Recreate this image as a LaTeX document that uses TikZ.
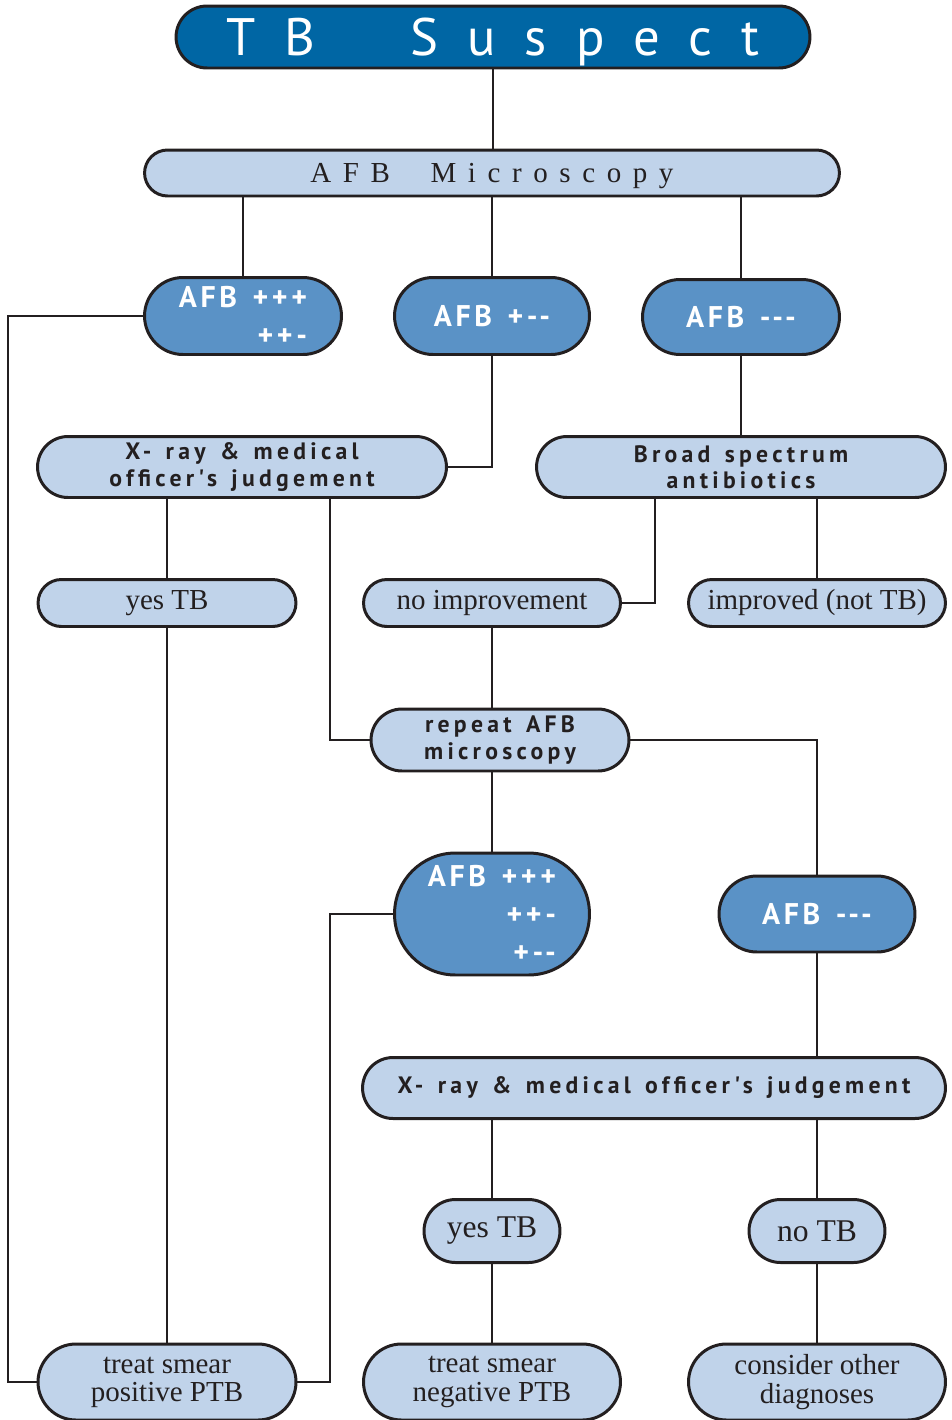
\documentclass[tikz,border=0pt]{standalone}
\usepackage{fontspec}
\setmainfont{Liberation Serif}
\newfontfamily\titlefont[LetterSpace=55]{PT Sans}
\newfontfamily\afbfont[LetterSpace=12,WordSpace=1.4]{PT Sans}
\newfontfamily\stepfont[LetterSpace=18,WordSpace=1.4]{PT Sans}
\newfontfamily\microfont[LetterSpace=40]{Liberation Serif}
\usetikzlibrary{shapes.misc}
\definecolor{darkblue}{RGB}{0,102,164}
\definecolor{midblue}{RGB}{90,146,198}
\definecolor{lightblue}{RGB}{192,211,234}
\definecolor{inkc}{RGB}{35,31,32}
\tikzset{
  box/.style={rounded rectangle, draw=inkc, line width=1.7pt, inner sep=0pt, align=center},
  lightbox/.style={box, fill=lightblue, text=inkc},
  afbbox/.style={box, fill=midblue, text=white, align=right,
    font=\afbfont\bfseries\fontsize{17}{21.5}\selectfont},
  stepbox/.style={lightbox, font=\stepfont\bfseries\fontsize{13.5}{15}\selectfont},
  plainbox/.style={lightbox, font=\fontsize{16.5}{16}\selectfont},
  link/.style={draw=inkc, line width=1.4pt}
}
\begin{document}
\begin{tikzpicture}[x=0.02cm, y=-0.02cm]
  \useasboundingbox (0,0) rectangle (952,1420);
  \node[box, fill=darkblue, text=white, minimum width=12.68cm, minimum height=1.24cm, text depth=0pt,
    font=\titlefont\fontsize{30}{30}\selectfont] (suspect) at (493,37) {TB\hspace{1.8em}Suspect};
  \node[lightbox, minimum width=13.9cm, minimum height=0.92cm, text depth=0pt,
    font=\microfont\fontsize{16.5}{16.5}\selectfont] (micro) at (492,173) {AFB\hspace{1.4em}Microscopy};
  \node[afbbox, minimum width=3.94cm, minimum height=1.54cm] (afbL) at (243,316) {AFB +++\\++-};
  \node[afbbox, minimum width=3.9cm, minimum height=1.54cm] (afbM) at (492,316) {AFB +--};
  \node[afbbox, minimum width=3.94cm, minimum height=1.5cm] (afbR) at (741,317) {AFB ---};
  \node[stepbox, minimum width=8.18cm, minimum height=1.22cm] (xrayA) at (242,467) {X- ray \& medical\\officer's judgement};
  \node[stepbox, minimum width=8.18cm, minimum height=1.22cm] (broad) at (741,467) {Broad spectrum\\antibiotics};
  \node[plainbox, minimum width=5.16cm, minimum height=0.94cm] (yesA) at (167,603) {yes TB};
  \node[plainbox, minimum width=5.14cm, minimum height=0.94cm] (noimp) at (492,603) {no improvement};
  \node[plainbox, minimum width=5.14cm, minimum height=0.94cm] (impr) at (817,603) {improved (not TB)};
  \node[stepbox, minimum width=5.16cm, minimum height=1.24cm] (repeat) at (500,740) {repeat AFB\\microscopy};
  \node[afbbox, minimum width=3.9cm, minimum height=2.44cm] (afbBig) at (492,914) {AFB +++\\++-\\+--};
  \node[afbbox, minimum width=3.92cm, minimum height=1.52cm] (afbR2) at (817,914) {AFB ---};
  \node[stepbox, minimum width=11.66cm, minimum height=1.22cm] (xrayB) at (654,1088) {X- ray \& medical officer's judgement};
  \node[plainbox, minimum width=2.72cm, minimum height=1.26cm, font=\fontsize{18}{18}\selectfont] (yesB) at (492,1231) {yes TB};
  \node[plainbox, minimum width=2.72cm, minimum height=1.26cm, font=\fontsize{18}{18}\selectfont] (noB) at (817,1231) {no TB};
  \node[plainbox, minimum width=5.16cm, minimum height=1.52cm] (treatP) at (167,1382) {treat smear\\positive PTB};
  \node[plainbox, minimum width=5.14cm, minimum height=1.52cm] (treatN) at (492,1382) {treat smear\\negative PTB};
  \node[plainbox, minimum width=5.14cm, minimum height=1.52cm] (other) at (817,1382) {consider other\\diagnoses};
  \coordinate (leftx) at (8,0);
  \coordinate (midx) at (330,0);
  \coordinate (broadx) at (655,0);
  \draw[link] (suspect.south) -- (suspect.south |- micro.north);
  \foreach \n in {afbL, afbM, afbR}
    \draw[link] (\n.north |- micro.south) -- (\n.north);
  \draw[link] (afbL.west) -- (leftx |- afbL.west) |- (treatP.west);
  \draw[link] (afbM.south) |- (xrayA.east);
  \draw[link] (afbR.south) -- (broad.north);
  \draw[link] (yesA.north |- xrayA.south) -- (yesA.north);
  \draw[link] (yesA.south) -- (treatP.north);
  \draw[link] (midx |- xrayA.south) |- (repeat.west);
  \draw[link] (broadx |- broad.south) |- (noimp.east);
  \draw[link] (impr.north |- broad.south) -- (impr.north);
  \draw[link] (noimp.south) -- (noimp.south |- repeat.north);
  \draw[link] (repeat.east) -| (afbR2.north);
  \draw[link] (afbBig.north |- repeat.south) -- (afbBig.north);
  \draw[link] (afbBig.west) -- (midx |- afbBig.west) |- (treatP.east);
  \draw[link] (afbR2.south) -- (afbR2.south |- xrayB.north);
  \foreach \n/\m in {yesB/treatN, noB/other} {
    \draw[link] (\n.north |- xrayB.south) -- (\n.north);
    \draw[link] (\n.south) -- (\m.north);
  }
\end{tikzpicture}
\end{document}
